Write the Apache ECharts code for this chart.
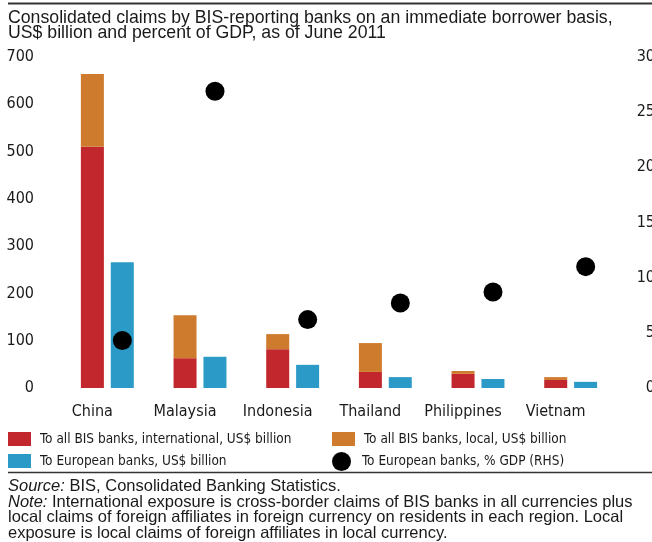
<!DOCTYPE html>
<html>
<head>
<meta charset="utf-8">
<script src="https://cdn.jsdelivr.net/npm/echarts@6/dist/echarts.min.js"></script>
<style>html,body{margin:0;padding:0;background:#fff;}#c{width:652px;height:542px;}</style>
</head>
<body>
<div id="c"></div>
<script>
const categories = ['China', 'Malaysia', 'Indonesia', 'Thailand', 'Philippines', 'Vietnam'];
const intlAll = [510, 63, 82, 34, 30, 17];
const localAll = [154, 91, 32, 61, 6, 6];
const european = [266, 66, 49, 23, 19, 13];
const europeanPctGdp = [4.3, 26.9, 6.2, 7.7, 8.7, 11.0];
const leftTicks = { min: 0, max: 700, interval: 100 };
const rightTicks = { min: 0, max: 30, interval: 5 };

const names = [
  'To all BIS banks, international, US$ billion',
  'To all BIS banks, local, US$ billion',
  'To European banks, US$ billion',
  'To European banks, % GDP (RHS)'
];
const RED = '#C1272D', ORANGE = '#CF7B2D', BLUE = '#2B9AC7', BLACK = '#000000';
const NARROW = '"Liberation Sans Narrow", "DejaVu Sans Condensed", sans-serif';
const SANS = '"Liberation Sans", Arial, sans-serif';
const TXT = '#1a1a1a';

function legendAt(name, left, top, icon, iw, ih) {
  return {
    data: [{ name: name, icon: icon }],
    left: left, top: top, orient: 'horizontal',
    itemWidth: iw, itemHeight: ih, padding: 0,
    selectedMode: false,
    itemStyle: { opacity: 1 },
    textStyle: { fontFamily: NARROW, fontSize: 13.5, color: TXT, padding: [0, 0, 0, 4] }
  };
}

const chart = echarts.init(document.getElementById('c'));
chart.setOption({
  animation: false,
  backgroundColor: '#ffffff',
  title: {
    text: 'Consolidated claims by BIS-reporting banks on an immediate borrower basis,\nUS$ billion and percent of GDP, as of June 2011',
    left: 8, top: 11, padding: 0,
    textStyle: { fontFamily: SANS, fontSize: 17.7, fontWeight: 'normal', lineHeight: 15, color: TXT }
  },
  legend: [
    legendAt(names[0], 8, 432, 'rect', 23, 14),
    legendAt(names[1], 332, 432, 'rect', 23, 14),
    legendAt(names[2], 8, 454, 'rect', 23, 14),
    legendAt(names[3], 332, 452, 'circle', 23, 19)
  ],
  grid: { left: 61, right: 35, top: 57, bottom: 154, containLabel: false, outerBoundsMode: 'none' },
  xAxis: {
    type: 'category',
    data: categories,
    axisLine: { show: false },
    axisTick: { show: false },
    axisLabel: { interval: 0, fontFamily: NARROW, fontSize: 16, color: TXT, margin: 16, padding: [0, 30, 0, 0] }
  },
  yAxis: [
    {
      type: 'value', min: leftTicks.min, max: leftTicks.max, interval: leftTicks.interval,
      splitLine: { show: false }, axisLine: { show: false }, axisTick: { show: false },
      axisLabel: { fontFamily: NARROW, fontSize: 16, color: TXT, margin: 27, align: 'right' }
    },
    {
      type: 'value', min: rightTicks.min, max: rightTicks.max, interval: rightTicks.interval,
      position: 'right',
      splitLine: { show: false }, axisLine: { show: false }, axisTick: { show: false },
      axisLabel: { fontFamily: NARROW, fontSize: 16, color: TXT, margin: 38, align: 'right' }
    }
  ],
  series: [
    { name: names[0], type: 'bar', stack: 'all', data: intlAll, barWidth: 23, barGap: '30%', itemStyle: { color: RED } },
    { name: names[1], type: 'bar', stack: 'all', data: localAll, barWidth: 23, barGap: '30%', itemStyle: { color: ORANGE } },
    { name: names[2], type: 'bar', data: european, barWidth: 23, barGap: '30%', itemStyle: { color: BLUE } },
    { name: names[3], type: 'scatter', yAxisIndex: 1, data: europeanPctGdp, symbol: 'circle', symbolSize: 19, symbolOffset: [15, 0], itemStyle: { color: BLACK, opacity: 1 }, z: 5 }
  ],
  graphic: [
    { type: 'line', shape: { x1: 8, y1: 3.5, x2: 652, y2: 3.5 }, style: { stroke: '#333', lineWidth: 2 }, silent: true },
    { type: 'line', shape: { x1: 8, y1: 472.5, x2: 652, y2: 472.5 }, style: { stroke: '#333', lineWidth: 1.5 }, silent: true },
    {
      type: 'text', left: 8, top: 478, silent: true,
      style: {
        text: '{i|Source:} BIS, Consolidated Banking Statistics.\n{i|Note:} International exposure is cross-border claims of BIS banks in all currencies plus\nlocal claims of foreign affiliates in foreign currency on residents in each region. Local\nexposure is local claims of foreign affiliates in local currency.',
        font: '16.5px ' + SANS, fill: TXT, lineHeight: 15.5,
        rich: { i: { fontStyle: 'italic', fontFamily: SANS, fontSize: 16.5, lineHeight: 15.5, fill: TXT } }
      }
    }
  ]
});
</script>
</body>
</html>
